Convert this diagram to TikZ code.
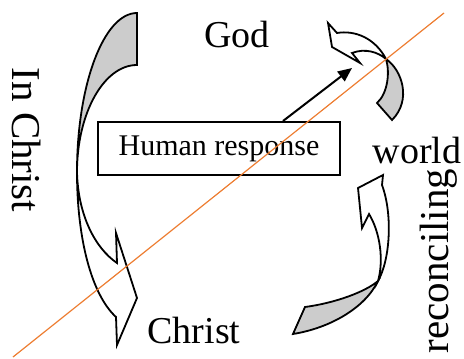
\documentclass[tikz,border=0pt]{standalone}
\usepackage{fontspec}
\setmainfont{Liberation Serif}
\usetikzlibrary{positioning,arrows.meta}

\begin{document}
\begin{tikzpicture}[
  x=0.5pt, y=-0.5pt,
  word/.style={font=\fontsize{19}{22}\selectfont, inner sep=0pt},
  rword/.style={font=\fontsize{20.5}{24}\selectfont, inner sep=0pt},
  respbox/.style={draw=black, line width=1pt, minimum width=121pt, minimum height=26.5pt,
    inner sep=0pt, font=\fontsize{15}{18}\selectfont},
  band/.style={draw=black, line width=0.9pt, line join=miter, fill=white},
  bandback/.style={band, fill=gray!40},
  cut/.style={draw={rgb,255:red,237;green,125;blue,49}, line width=0.6pt}
]
\useasboundingbox (0,0) rectangle (464,358);

% labels round the cycle
\node[word, anchor=base] (god) at (237,47) {God};
\node[word, anchor=base] (christ) at (194,343) {Christ};
\node[word, anchor=base] (world) at (417,163) {world};
\node[rword, rotate=-90, anchor=base] (inchrist) at (12,140) {In Christ};
\node[rword, rotate=90, anchor=base] (recon) at (448,261) {reconciling};
\node[respbox] (hr) at (219,148.5) {Human response};

% left curved arrow: God down to Christ
\draw[bandback] (137,13) .. controls (104,13) and (77,84) .. (77,172)
  .. controls (77,113) and (104,65) .. (137,65) -- cycle;
\draw[band] (77,172) .. controls (77,240) and (92,295) .. (116,317)
  -- (117,345) -- (137,298) -- (116,233) -- (117,263)
  .. controls (95,248) and (78,215) .. (77,172) -- cycle;

% top right curved arrow: world up to God
\draw[bandback] (386,59) .. controls (402,70) and (412,100) .. (392,120)
  -- (377,103) .. controls (388,93) and (390,72) .. (386,59) -- cycle;
\draw[band] (386,59) .. controls (375,38) and (355,30) .. (337,33)
  -- (328,23) -- (332,47) -- (360,63) -- (352,53)
  .. controls (365,48) and (378,52) .. (386,59) -- cycle;

% bottom right curved arrow: Christ up to world
\draw[bandback] (378,281) .. controls (365,308) and (330,328) .. (293,334)
  -- (305,307) .. controls (335,303) and (365,292) .. (378,281) -- cycle;
\draw[band] (378,281) .. controls (390,260) and (393,215) .. (382,185)
  -- (383,175) -- (358,188) -- (362,228) -- (369,214)
  .. controls (380,232) and (384,260) .. (378,281) -- cycle;

% response arrow towards God
\coordinate (up) at (352,68);
\draw[line width=1pt, -{Triangle[length=7pt,width=6pt]}] (hr.north) ++(64,0) -- (up);

% diagonal cut
\coordinate (c1) at (13,357);
\coordinate (c2) at (444,13);
\draw[cut] (c1) -- (c2);

\end{tikzpicture}
\end{document}
